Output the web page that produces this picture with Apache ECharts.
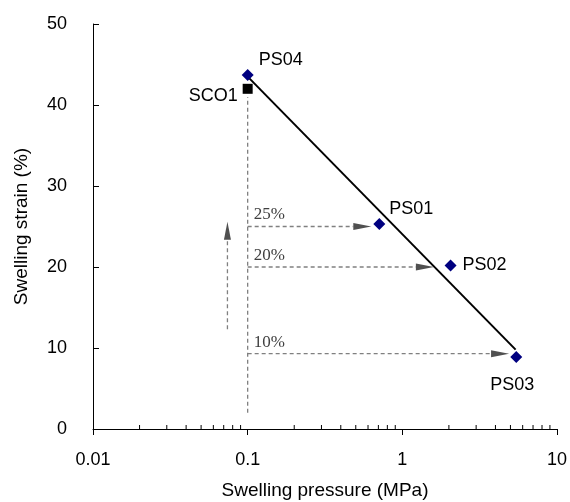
<!DOCTYPE html>
<html>
<head>
<meta charset="utf-8">
<script src="https://cdn.jsdelivr.net/npm/echarts@6/dist/echarts.min.js"></script>
<style>html,body{margin:0;padding:0;background:#fff}#c{width:570px;height:502px}</style>
</head>
<body>
<div id="c"></div>
<script>
// ---- data ----
const sampleNames = ['PS04', 'PS01', 'PS02', 'PS03'];
const swellingPressure = [0.1, 0.71, 2.05, 5.45];   // MPa
const swellingStrain = [43.7, 25.3, 20.2, 8.9];      // %
const refName = 'SCO1';
const refPoint = [0.1, 42.0];
const trendX = [0.1, 5.4];
const trendY = [43.5, 9.8];
// dashed guide arrows: [x1, y1, x2, y2, hasHead]
const guideX1 = [0.1, 0.1, 0.1, 0.1, 0.074];
const guideY1 = [2, 25, 20, 9.3, 12.3];
const guideX2 = [0.1, 0.63, 1.6, 4.9, 0.074];
const guideY2 = [41, 25, 20, 9.3, 25.6];
const guideHead = [0, 1, 1, 1, 1];
const guideLabels = ['', '25%', '20%', '10%', ''];
const xTickLabels = ['0.01', '0.1', '1', '10'];
const yTickLabels = ['0', '10', '20', '30', '40', '50'];

// minor tick values for log axis (2..9 per decade)
const minorTicks = [];
[0.01, 0.1, 1].forEach(d => { for (let k = 2; k <= 9; k++) minorTicks.push(+(d * k).toPrecision(3)); });

const FONT = 'Liberation Sans';
const chart = echarts.init(document.getElementById('c'), null, { renderer: 'canvas' });

const labelPos = {
  'PS04': { position: 'right', offset: [0, -15] },
  'PS01': { position: 'right', offset: [-1, -15] },
  'PS02': { position: 'right', offset: [1, 0] },
  'PS03': { position: 'bottom', offset: [-4, 8] }
};

const guideData = guideX1.map((x, i) => [x, guideY1[i], guideX2[i], guideY2[i], guideHead[i], i]);

chart.setOption({
  animation: false,
  backgroundColor: '#ffffff',
  grid: { left: 93, right: 13, top: 24, bottom: 73, outerBoundsMode: 'none' },
  xAxis: {
    type: 'log', logBase: 10, min: 0.01, max: 10,
    name: 'Swelling pressure (MPa)', nameLocation: 'middle', nameGap: 52,
    nameTextStyle: { fontFamily: FONT, fontSize: 19, color: '#000' },
    axisLine: { lineStyle: { color: '#000', width: 1 } },
    axisTick: { show: true, inside: false, length: 6, lineStyle: { color: '#000' } },
    axisLabel: {
      fontFamily: FONT, fontSize: 18, color: '#000', margin: 22,
      formatter: v => { const i = Math.round(Math.log10(v)) + 2; return xTickLabels[i] !== undefined ? xTickLabels[i] : ''; }
    },
    splitLine: { show: false }
  },
  yAxis: {
    type: 'value', min: 0, max: 50, interval: 10,
    name: 'Swelling strain (%)', nameLocation: 'middle', nameGap: 62, nameRotate: 90,
    nameTextStyle: { fontFamily: FONT, fontSize: 19, color: '#000' },
    axisLine: { show: true, lineStyle: { color: '#000', width: 1 } },
    axisTick: { show: true, inside: true, length: 6, lineStyle: { color: '#000' } },
    axisLabel: {
      fontFamily: FONT, fontSize: 18, color: '#000', margin: 26,
      formatter: v => yTickLabels[Math.round(v / 10)]
    },
    splitLine: { show: false }
  },
  series: [
    {
      // minor ticks of log x-axis
      type: 'custom', silent: true, clip: false,
      data: minorTicks.map(v => [v]),
      encode: { x: 0 },
      renderItem: (params, api) => {
        const p = api.coord([api.value(0), 0]);
        return { type: 'line', shape: { x1: p[0], y1: p[1], x2: p[0], y2: p[1] - 4 }, style: { stroke: '#000', lineWidth: 1 } };
      },
      z: 1
    },
    {
      // dashed guides with arrows
      type: 'custom', silent: true, clip: false,
      data: guideData,
      encode: { x: [0, 2], y: [1, 3] },
      renderItem: (params, api) => {
        const a = api.coord([api.value(0), api.value(1)]);
        const b = api.coord([api.value(2), api.value(3)]);
        const head = api.value(4);
        const idx = api.value(5);
        const children = [];
        const dx = b[0] - a[0], dy = b[1] - a[1];
        const L = Math.sqrt(dx * dx + dy * dy);
        const ux = dx / L, uy = dy / L;
        const hl = 18, hw = 3.5;
        const end = head ? [b[0] - ux * hl, b[1] - uy * hl] : b;
        children.push({ type: 'line', shape: { x1: a[0], y1: a[1], x2: end[0], y2: end[1] },
          style: { stroke: '#808080', lineWidth: 1.3, lineDash: [4, 3] } });
        if (head) {
          const bx = b[0] - ux * hl, by = b[1] - uy * hl;
          children.push({ type: 'polygon', shape: { points: [[b[0], b[1]], [bx - uy * hw, by + ux * hw], [bx + uy * hw, by - ux * hw]] },
            style: { fill: '#505050' } });
        }
        const lab = guideLabels[idx];
        if (lab) {
          children.push({ type: 'text', x: a[0] + 6, y: a[1] - 3,
            style: { text: lab, fontFamily: 'Liberation Serif', fontSize: 17, fill: '#404040', align: 'left', verticalAlign: 'bottom' } });
        }
        return { type: 'group', children };
      },
      z: 2
    },
    {
      type: 'line', silent: true,
      data: trendX.map((x, i) => [x, trendY[i]]),
      symbol: 'none',
      lineStyle: { color: '#000', width: 2 },
      z: 3
    },
    {
      type: 'scatter',
      data: swellingPressure.map((x, i) => ({
        name: sampleNames[i], value: [x, swellingStrain[i]],
        label: Object.assign({ show: true }, labelPos[sampleNames[i]])
      })),
      symbol: 'diamond', symbolSize: 12,
      itemStyle: { color: '#000080', opacity: 1 },
      label: { show: true, formatter: '{b}', fontFamily: FONT, fontSize: 18, color: '#000', opacity: 1 },
      z: 4
    },
    {
      type: 'scatter',
      data: [{ name: refName, value: refPoint }],
      symbol: 'rect', symbolSize: 10,
      itemStyle: { color: '#000', opacity: 1 },
      label: { show: true, formatter: '{b}', position: 'left', offset: [0, 7], fontFamily: FONT, fontSize: 18, color: '#000', opacity: 1 },
      z: 4
    }
  ]
});
</script>
</body>
</html>
